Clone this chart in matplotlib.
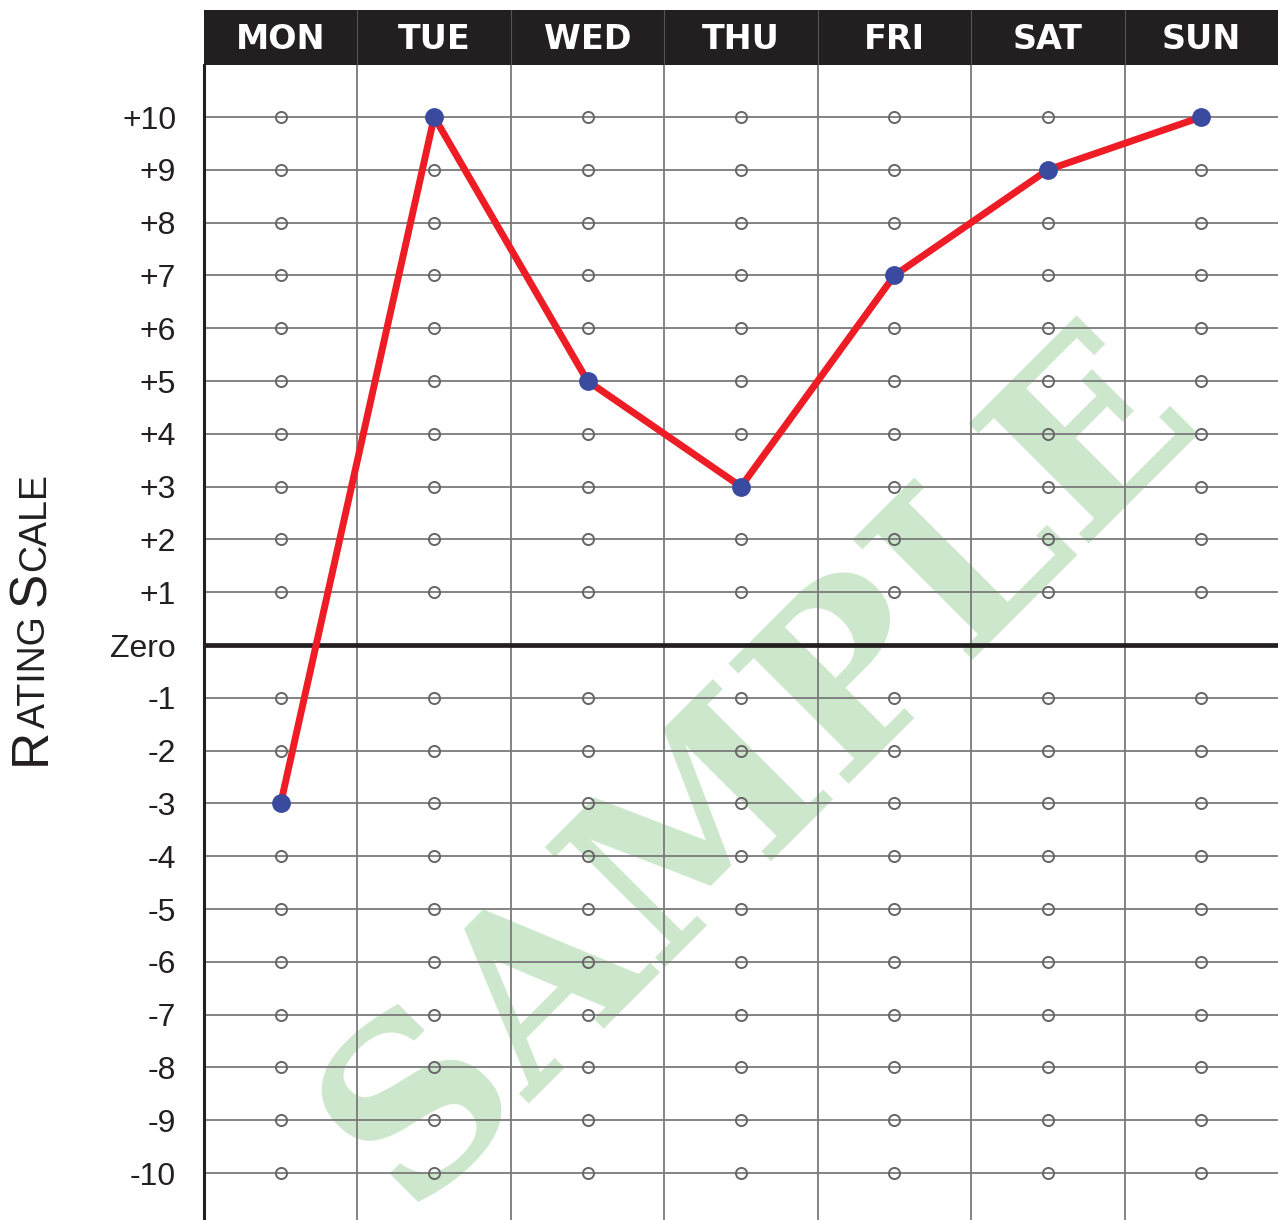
import matplotlib
matplotlib.use("Agg")
import matplotlib.pyplot as plt

days = ["MON", "TUE", "WED", "THU", "FRI", "SAT", "SUN"]
ratings = [-3, 10, 5, 3, 7, 9, 10]
levels = [v for v in range(-10, 11) if v != 0]
level_labels = {v: (f"+{v}" if v > 0 else str(v)) for v in levels}
level_labels[0] = "Zero"

INK = "#231f20"
GRID = "#7a7a7a"

fig = plt.figure(figsize=(12.78, 12.2), dpi=100)
W, H = 1278, 1220
left = 204 / W
ax = fig.add_axes([left, 0, 1 - left, (H - 65) / H])
hdr = fig.add_axes([left, (H - 65) / H, 1 - left, 55 / H])

xs = [i + 0.5 for i in range(len(days))]
ax.set_xlim(0, len(days))
ax.set_ylim(-10.89, 10.985)

# watermark
ax.text(3.62, -2.3, "SAMPLE", rotation=45, ha="center", va="center",
        fontsize=168, fontweight="bold", family="DejaVu Serif",
        color="#cde7cd", zorder=0)

# grid
for v in levels:
    ax.axhline(v, color=GRID, lw=1.3, zorder=1)
for i in range(1, len(days)):
    ax.axvline(i, color=GRID, lw=1.3, zorder=1)
ax.axhline(0, color=INK, lw=3.4, zorder=2)

# little open circles at every grid point
for x in xs:
    ax.plot([x] * len(levels), levels, ls="none", marker="o", ms=8,
            mfc="none", mec="#666666", mew=1.4, zorder=3)

ax.plot(xs, ratings, color="#ee1c24", lw=5, zorder=4,
        solid_capstyle="round", solid_joinstyle="round")
ax.plot(xs, ratings, ls="none", marker="o", ms=12.5, color="#3a4a9f", zorder=5)

for s in ["top", "right", "bottom"]:
    ax.spines[s].set_visible(False)
ax.spines["left"].set_linewidth(2.2)
ax.spines["left"].set_color(INK)
ax.set_xticks([])
ax.set_yticks(levels + [0])
ax.set_yticklabels([level_labels[v] for v in levels + [0]])
ax.tick_params(axis="y", length=0, pad=20, labelsize=23, labelcolor=INK)
for t in ax.get_yticklabels():
    t.set_family("Liberation Sans")

# header bar
hdr.set_xlim(0, len(days))
hdr.set_ylim(0, 1)
hdr.set_facecolor(INK)
for s in hdr.spines.values():
    s.set_visible(False)
hdr.set_xticks([])
hdr.set_yticks([])
for i in range(1, len(days)):
    hdr.axvline(i, color="#555555", lw=0.8)
for x, d in zip(xs, days):
    hdr.text(x, 0.46, d, ha="center", va="center", color="white",
             fontsize=24, fontweight="heavy", family="DejaVu Sans")

# small-caps axis title, pieces share one baseline
parts = [("R", 37), ("ATING ", 27), ("S", 37), ("CALE", 27)]
fig.canvas.draw()
r = fig.canvas.get_renderer()
y = 765
for txt, size in parts:
    t = fig.text(45 / W, 1 - y / H, txt, rotation=90, rotation_mode="anchor",
                 ha="left", va="baseline", fontsize=size,
                 family="Liberation Sans", color=INK)
    y -= t.get_window_extent(r).height

fig.savefig("out.png", dpi=100)
